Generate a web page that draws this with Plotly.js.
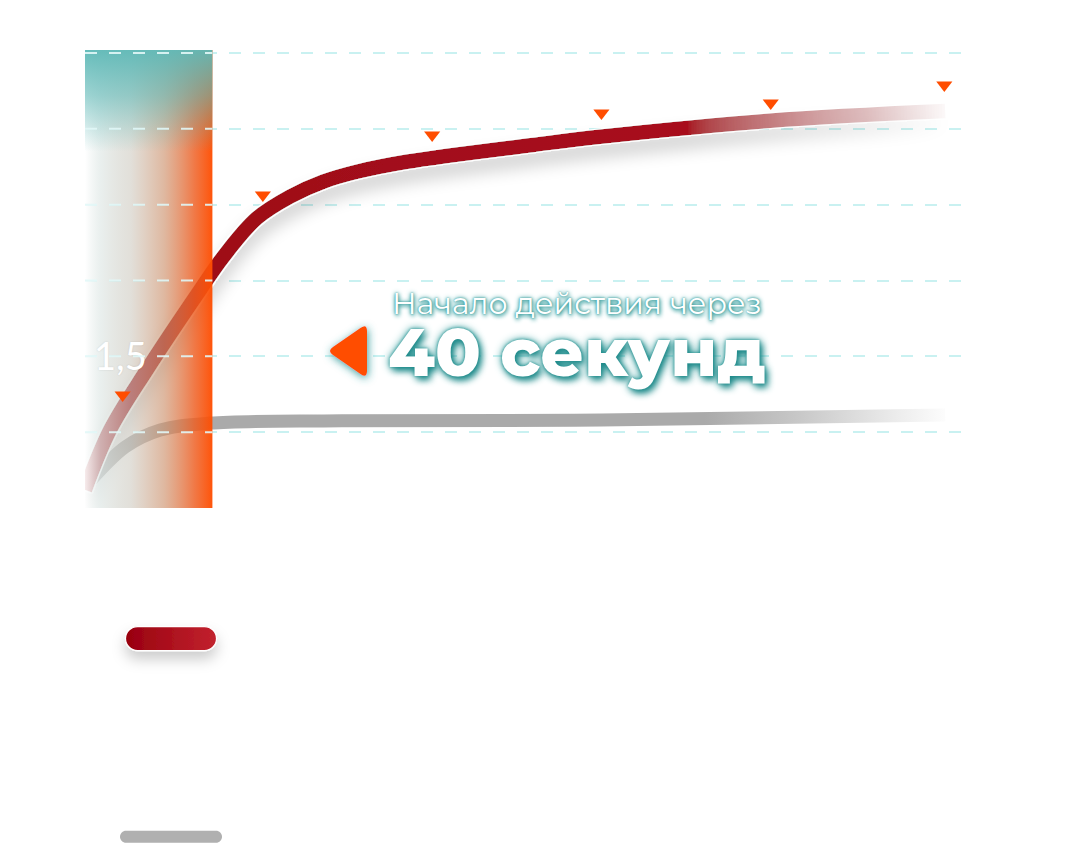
<!DOCTYPE html>
<html>
<head>
<meta charset="utf-8">
<script src="https://cdn.plot.ly/plotly-3.0.1.min.js"></script>
<style>
  html, body { margin: 0; padding: 0; background: #fff; }
  #chart { width: 1068px; height: 859px; }
  #defs { position: absolute; width: 0; height: 0; }
</style>
</head>
<body>
<svg id="defs" aria-hidden="true">
  <defs>
    <linearGradient id="fadeRed" x1="0" y1="0" x2="1" y2="0">
      <stop offset="0" stop-color="#9c0a16" stop-opacity="1"/>
      <stop offset="0.7" stop-color="#a8101e" stop-opacity="1"/>
      <stop offset="0.8" stop-color="#b01828" stop-opacity="0.78"/>
      <stop offset="0.91" stop-color="#b01828" stop-opacity="0.45"/>
      <stop offset="1" stop-color="#b01828" stop-opacity="0.05"/>
    </linearGradient>
    <linearGradient id="fadeGray" x1="0" y1="0" x2="1" y2="0">
      <stop offset="0" stop-color="#aaaaaa" stop-opacity="1"/>
      <stop offset="0.72" stop-color="#aaaaaa" stop-opacity="1"/>
      <stop offset="0.83" stop-color="#aaaaaa" stop-opacity="0.65"/>
      <stop offset="0.95" stop-color="#aaaaaa" stop-opacity="0.2"/>
      <stop offset="1" stop-color="#aaaaaa" stop-opacity="0.03"/>
    </linearGradient>
    <linearGradient id="pillRed" x1="0" y1="0" x2="1" y2="0">
      <stop offset="0" stop-color="#98000f"/>
      <stop offset="1" stop-color="#c2222e"/>
    </linearGradient>
    <filter id="lineShadow" x="-0.1" y="-0.3" width="1.2" height="1.7">
      <feGaussianBlur in="SourceAlpha" stdDeviation="9" result="blur"/>
      <feOffset in="blur" dx="0" dy="12" result="off"/>
      <feComponentTransfer in="off" result="shadow"><feFuncA type="linear" slope="0.22"/></feComponentTransfer>
      <feMorphology in="SourceAlpha" operator="dilate" radius="1" result="thick"/>
      <feFlood flood-color="#ffffff"/>
      <feComposite in2="thick" operator="in" result="outline"/>
      <feMerge>
        <feMergeNode in="shadow"/>
        <feMergeNode in="outline"/>
        <feMergeNode in="SourceGraphic"/>
      </feMerge>
    </filter>
    <filter id="pillShadow" x="-0.5" y="-1.5" width="2" height="4">
      <feDropShadow dx="0" dy="8" stdDeviation="7" flood-color="#000" flood-opacity="0.2"/>
    </filter>
    <filter id="tealGlow" x="-0.6" y="-0.6" width="2.2" height="2.2">
      <feDropShadow dx="1" dy="2" stdDeviation="4" flood-color="#2e9a9a" flood-opacity="0.95"/>
    </filter>
  </defs>
</svg>
<div id="chart"></div>
<script>
// curves (x = time units, y = level)
const RED_X = [0, 0.292, 0.722, 1.345, 1.618, 2.008, 2.398, 2.787, 3.178, 3.763, 5.24, 6.023, 8.012, 10.06];
const RED_Y = [0.619, 1.014, 1.41, 1.937, 2.157, 2.41, 2.553, 2.652, 2.717, 2.783, 2.894, 2.948, 3.054, 3.118];

const GRAY_X = [0, 0.47, 0.88, 1.46, 3.0, 6.04, 10.06];
const GRAY_Y = [0.638, 0.902, 1.014, 1.06, 1.075, 1.08, 1.113];

const MARK_X = [0.44, 2.08, 4.06, 6.04, 8.02, 10.05];
const MARK_Y = [1.245, 2.564, 2.959, 3.104, 3.170, 3.289];

const GRID_Y = [1, 1.5, 2, 2.5, 3, 3.5];
const GRID_TEXT = ["", "1,5", "", "", "", ""];

// onset window (first 40 s)
const BAND_X = [0, 1.49];
const BAND_Y = [0.5, 3.52];

const ORANGE = "#ff4d00";
const GLOW = "#2e9a9a";

function box(xs, ys) {
  return {
    x: [xs[0], xs[1], xs[1], xs[0], xs[0]],
    y: [ys[0], ys[0], ys[1], ys[1], ys[0]],
  };
}

const traces = [
  {
    x: GRAY_X, y: GRAY_Y,
    type: "scatter", mode: "lines", name: "Плацебо",
    line: { color: "#aaaaaa", width: 13, shape: "spline", smoothing: 1 },
  },
  {
    x: RED_X, y: RED_Y,
    type: "scatter", mode: "lines", name: "Препарат",
    line: { color: "#a50f1c", width: 14.5, shape: "spline", smoothing: 1 },
  },
  {
    ...box(BAND_X, BAND_Y),
    type: "scatter", mode: "lines", showlegend: false, hoverinfo: "skip",
    line: { width: 0, color: "rgba(0,0,0,0)" },
    fill: "toself",
    fillgradient: {
      type: "horizontal",
      colorscale: [
        [0, "rgba(255,255,255,0.92)"],
        [0.12, "rgba(226,234,232,0.74)"],
        [0.36, "rgba(206,202,192,0.6)"],
        [0.62, "rgba(206,148,112,0.66)"],
        [0.86, "rgba(238,95,35,0.84)"],
        [1, "rgba(255,77,0,0.96)"],
      ],
    },
  },
  {
    ...box(BAND_X, [2.85, BAND_Y[1]]),
    type: "scatter", mode: "lines", showlegend: false, hoverinfo: "skip",
    line: { width: 0, color: "rgba(0,0,0,0)" },
    fill: "toself",
    fillgradient: {
      type: "vertical",
      colorscale: [
        [0, "rgba(95,185,183,0)"],
        [0.55, "rgba(95,185,183,0.6)"],
        [1, "rgba(95,185,183,0.95)"],
      ],
    },
  },
  {
    x: MARK_X, y: MARK_Y,
    type: "scatter", mode: "markers", showlegend: false,
    marker: { symbol: "triangle-down", size: 14, color: ORANGE },
  },
];

function pill(xa, ya, w, h, fill, line) {
  const r = h / 2, k = r * 0.5523, e = w / 2 - r;
  const p = `M${-e},${-r} H${e} C${e + k},${-r} ${w / 2},${-k} ${w / 2},0 ` +
    `C${w / 2},${k} ${e + k},${r} ${e},${r} H${-e} ` +
    `C${-e - k},${r} ${-w / 2},${k} ${-w / 2},0 C${-w / 2},${-k} ${-e - k},${-r} ${-e},${-r} Z`;
  return {
    type: "path", xref: "paper", yref: "paper", xsizemode: "pixel", ysizemode: "pixel",
    xanchor: xa, yanchor: ya, path: p, fillcolor: fill,
    line: line || { width: 0 },
  };
}

// rounded left-pointing pointer next to the callout
const POINTER = "M-14.6,-4 L13.2,-23.3 Q19.5,-27.5 19.5,-20 L19.5,20 Q19.5,27.5 13.2,23.3 L-14.6,4 Q-20.5,0 -14.6,-4 Z";

const shapes = [
  ...GRID_Y.map((g) => ({
    type: "line", xref: "x", yref: "y", layer: "above",
    x0: BAND_X[0], x1: BAND_X[1], y0: g, y1: g,
    line: { color: "rgba(226,247,247,0.9)", width: 2, dash: "12px,12px" },
  })),
  {
    type: "path", xref: "paper", yref: "paper", xsizemode: "pixel", ysizemode: "pixel",
    xanchor: 0.2973, yanchor: 0.3428, path: POINTER, fillcolor: ORANGE, line: { width: 0 },
  },
  // legend keys
  pill(0.0974, -0.285, 91, 24, "#ab111f", { color: "#ffffff", width: 1.2 }),
  pill(0.0974, -0.718, 102, 12, "#b0b0b0"),
];
const IDX_POINTER = GRID_Y.length;
const IDX_PILL = GRID_Y.length + 1;

const annotations = [
  {
    xref: "paper", yref: "paper", x: 0.3454, y: 0.446, xanchor: "left", showarrow: false,
    text: "Начало действия через",
    font: { family: "Montserrat, Inter, sans-serif", size: 30, weight: 400, color: "#ffffff",
      shadow: `1px 2px 4px ${GLOW}, 0 0 5px ${GLOW}, 0 0 2px ${GLOW}` },
  },
  {
    xref: "paper", yref: "paper", x: 0.3405, y: 0.3406, xanchor: "left", showarrow: false,
    text: "40 секунд",
    font: { family: "Montserrat, Inter, sans-serif", size: 67, weight: 800, color: "#ffffff",
      shadow: `3px 4px 7px #1f8a8a, 0 0 8px ${GLOW}, 0 0 3px ${GLOW}` },
  },
];

const layout = {
  width: 1068,
  height: 859,
  margin: { l: 85, r: 100, t: 50, b: 351 },
  paper_bgcolor: "#ffffff",
  plot_bgcolor: "#ffffff",
  showlegend: false,
  hovermode: false,
  xaxis: {
    range: [0, 10.327],
    showgrid: false, zeroline: false, showticklabels: false, ticks: "", showline: false,
  },
  yaxis: {
    range: BAND_Y,
    tickvals: GRID_Y,
    ticktext: GRID_TEXT,
    ticks: "",
    showline: false,
    zeroline: false,
    gridcolor: "#c9f1f1",
    gridwidth: 2,
    griddash: "12px,12px",
    ticklabelposition: "inside",
    ticklabelstandoff: 6,
    layer: "above traces",
    tickfont: { family: "Lato, 'Open Sans', sans-serif", size: 38, weight: 400, color: "#ffffff",
      shadow: "0 0 2px rgba(0,0,0,0.12)" },
  },
  shapes,
  annotations,
};

Plotly.newPlot("chart", traces, layout, { displayModeBar: false, staticPlot: true }).then((gd) => {
  // gradient fade along the curves + soft drop shadow and white edge on the main one
  const groups = gd.querySelectorAll(".scatterlayer .trace");
  const gray = groups[0].querySelector(".js-line");
  const red = groups[1].querySelector(".js-line");
  gray.style.stroke = "url(#fadeGray)";
  red.style.stroke = "url(#fadeRed)";
  red.setAttribute("filter", "url(#lineShadow)");

  const pointer = gd.querySelector(`.shapelayer path[data-index="${IDX_POINTER}"]`);
  if (pointer) pointer.setAttribute("filter", "url(#tealGlow)");
  const pillRed = gd.querySelector(`.shapelayer path[data-index="${IDX_PILL}"]`);
  if (pillRed) {
    pillRed.style.fill = "url(#pillRed)";
    pillRed.setAttribute("filter", "url(#pillShadow)");
  }
});
</script>
</body>
</html>
